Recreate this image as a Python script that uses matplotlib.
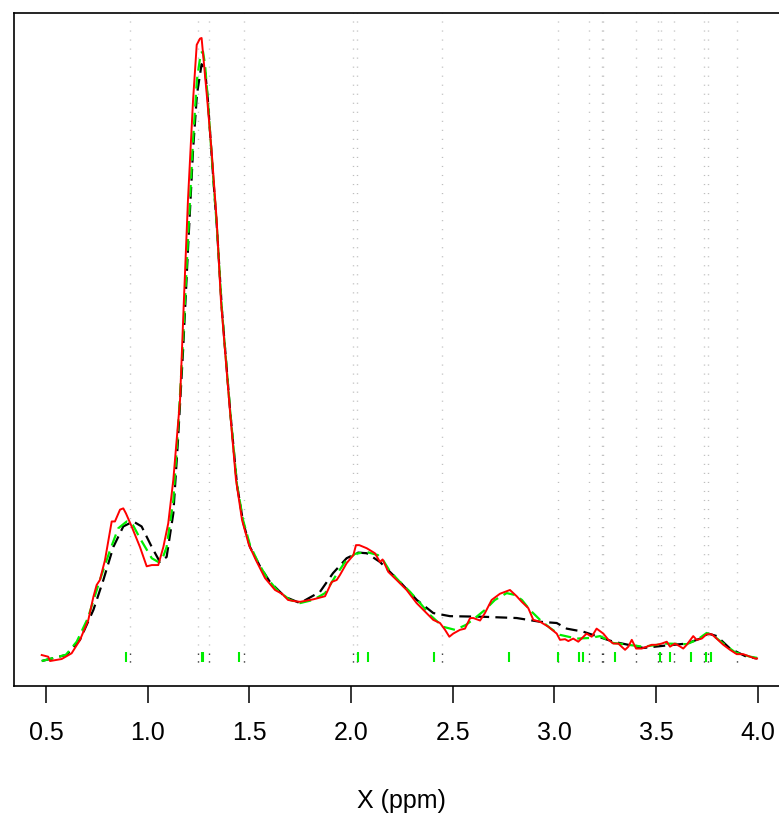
import numpy as np
import matplotlib
matplotlib.use("Agg")
import matplotlib.pyplot as plt

plt.rcParams['font.family'] = ['Liberation Sans', 'DejaVu Sans']
plt.rcParams['lines.scale_dashes'] = False

# Observed spectrum (red)
red_x = [0.479, 0.511, 0.520, 0.577, 0.626, 0.667, 0.708, 0.733, 0.749, 0.765, 0.790, 0.823, 0.839,
         0.864, 0.880, 0.893, 0.921, 0.962, 0.995, 1.020, 1.052, 1.077, 1.101, 1.126, 1.159, 1.178,
         1.198, 1.223, 1.241, 1.257, 1.265, 1.293, 1.315, 1.339, 1.360, 1.400, 1.434, 1.464, 1.498,
         1.532, 1.577, 1.626, 1.660, 1.690, 1.724, 1.749, 1.814, 1.872, 1.905, 1.929, 1.945, 1.978,
         2.011, 2.024, 2.040, 2.077, 2.117, 2.142, 2.155, 2.183, 2.224, 2.273, 2.322, 2.380, 2.404,
         2.437, 2.462, 2.483, 2.502, 2.535, 2.560, 2.585, 2.601, 2.634, 2.658, 2.691, 2.732, 2.757,
         2.781, 2.814, 2.839, 2.871, 2.896, 2.929, 2.970, 3.011, 3.027, 3.052, 3.068, 3.092, 3.117,
         3.142, 3.158, 3.183, 3.207, 3.240, 3.265, 3.289, 3.314, 3.330, 3.347, 3.363, 3.380, 3.401,
         3.429, 3.453, 3.478, 3.502, 3.527, 3.552, 3.568, 3.592, 3.614, 3.633, 3.650, 3.682, 3.699,
         3.724, 3.748, 3.773, 3.797, 3.830, 3.863, 3.896, 3.928, 3.961, 3.986, 3.996]
red_y = [0.96, 0.69, 0.0, 0.32, 1.24, 3.37, 6.58, 10.3, 12.2, 13.0, 16.2, 22.4, 22.4,
         24.3, 24.5, 23.7, 21.6, 18.3, 15.2, 15.4, 15.4, 18.3, 22.1, 29.1, 41.9, 57.9,
         74.0, 90.0, 98.9, 99.9, 100.0, 90.0, 81.5, 70.8, 57.9, 41.9, 29.1, 22.6, 18.6,
         16.2, 13.3, 11.4, 10.8, 9.8, 9.6, 9.5, 9.9, 10.4, 12.7, 13.0, 13.8, 15.7,
         17.0, 18.6, 18.6, 18.1, 17.3, 15.9, 16.3, 14.3, 13.0, 11.4, 9.3, 7.4, 6.6,
         6.1, 5.0, 3.9, 4.4, 5.0, 5.2, 6.9, 6.9, 6.5, 7.7, 9.8, 10.8, 11.1,
         11.4, 10.4, 9.5, 8.5, 6.6, 6.3, 5.5, 4.4, 3.4, 3.5, 3.2, 3.6, 3.1,
         3.9, 4.4, 3.9, 5.2, 4.4, 3.4, 2.8, 2.8, 2.3, 1.8, 2.3, 3.4, 2.0,
         2.0, 2.3, 2.6, 2.6, 2.8, 3.1, 2.3, 2.8, 2.4, 2.0, 2.6, 4.0, 3.4,
         3.6, 4.3, 4.3, 3.6, 2.6, 1.8, 1.1, 1.1, 0.7, 0.4, 0.4]

# Fitted spectrum (green dashed)
green_x = [0.479, 0.598, 0.651, 0.706, 0.765, 0.815, 0.855, 0.897, 0.928, 0.962, 1.020, 1.052, 1.070,
           1.093, 1.126, 1.149, 1.174, 1.198, 1.223, 1.242, 1.261, 1.272, 1.282, 1.296, 1.316, 1.341,
           1.365, 1.405, 1.439, 1.469, 1.503, 1.542, 1.587, 1.636, 1.700, 1.749, 1.813, 1.872, 1.921,
           1.970, 2.019, 2.077, 2.132, 2.157, 2.191, 2.240, 2.290, 2.339, 2.388, 2.452, 2.511, 2.565,
           2.609, 2.658, 2.707, 2.765, 2.806, 2.840, 2.879, 2.929, 2.978, 3.027, 3.109, 3.175, 3.224,
           3.288, 3.362, 3.436, 3.552, 3.650, 3.701, 3.748, 3.784, 3.830, 3.888, 3.961, 3.996]
green_y = [0.0, 1.0, 3.1, 6.9, 13.0, 17.8, 21.3, 22.4, 21.8, 19.7, 16.5, 15.9, 16.2,
           18.3, 25.8, 37.1, 51.5, 67.6, 83.6, 93.3, 97.6, 97.8, 95.7, 90.0, 80.4, 69.2,
           56.3, 40.3, 28.3, 22.6, 18.6, 15.9, 13.3, 11.4, 9.8, 9.3, 9.8, 10.9, 13.5,
           15.9, 17.2, 17.5, 17.0, 16.2, 14.4, 12.7, 11.1, 9.3, 7.4, 5.5, 5.0, 5.8,
           6.9, 8.2, 9.8, 10.9, 10.6, 9.8, 8.2, 6.6, 5.3, 4.2, 3.6, 3.7, 4.0,
           2.9, 2.6, 2.3, 2.8, 2.7, 3.4, 4.5, 4.0, 2.8, 1.4, 0.7, 0.5]

# Smoothed fit (black dashed)
black_x = [0.479, 0.602, 0.667, 0.733, 0.782, 0.831, 0.880, 0.929, 0.970, 1.020, 1.060, 1.093, 1.126,
           1.149, 1.174, 1.198, 1.223, 1.242, 1.265, 1.282, 1.296, 1.316, 1.341, 1.365, 1.405, 1.439,
           1.469, 1.503, 1.552, 1.601, 1.675, 1.749, 1.847, 1.911, 1.978, 2.035, 2.077, 2.142, 2.240,
           2.323, 2.404, 2.486, 2.650, 2.814, 2.929, 3.011, 3.060, 3.142, 3.289, 3.437, 3.552, 3.650,
           3.716, 3.756, 3.798, 3.863, 3.937, 3.996]
black_y = [0.0, 1.0, 3.4, 8.2, 13.0, 18.3, 21.6, 22.4, 21.6, 18.3, 15.9, 16.7, 23.7,
           35.5, 49.9, 66.0, 82.0, 90.9, 95.8, 94.9, 90.0, 80.4, 69.2, 56.3, 40.3, 28.3,
           22.3, 18.3, 15.2, 12.7, 10.3, 9.3, 11.1, 14.1, 16.5, 17.4, 17.3, 15.9, 12.7,
           9.8, 7.7, 7.2, 7.1, 6.9, 6.3, 6.1, 5.2, 4.7, 3.1, 2.1, 2.5, 2.8,
           3.6, 4.4, 4.0, 2.0, 0.8, 0.4]

# Reference peak positions (gray dotted / black ticks)
ref_peaks = [0.913, 1.246, 1.303, 1.475, 2.011, 2.030, 2.445, 3.015, 3.171, 3.232, 3.240,
             3.403, 3.511, 3.526, 3.588, 3.737, 3.757, 3.897]
# Fitted peak positions (green ticks)
fit_peaks = [0.893, 1.267, 1.274, 1.449, 2.035, 2.085, 2.410, 2.778, 3.015, 3.122, 3.139,
             3.297, 3.518, 3.570, 3.670, 3.745, 3.770]

xticks = [0.5, 1.0, 1.5, 2.0, 2.5, 3.0, 3.5, 4.0]
xtick_labels = ["0.5", "1.0", "1.5", "2.0", "2.5", "3.0", "3.5", "4.0"]

fig = plt.figure(figsize=(7.79, 8.21), dpi=100)
ax = fig.add_axes([14/779, 1 - 686/821, (788 - 14)/779, (686 - 13)/821])

ax.vlines(ref_peaks, 2.6, 110, colors='#bebebe', linewidth=1.0,
          linestyles=[(0, (0.8, 5.7))])
ax.vlines(ref_peaks, -0.2, 1.8, colors='black', linewidth=1.0,
          linestyles=[(0, (0.8, 4.8))])
ax.vlines(fit_peaks, -0.2, 1.4, colors='#00ee00', linewidth=1.5)

ax.plot(black_x, black_y, color='black', linewidth=1.6, dashes=(8.5, 4.5))
ax.plot(green_x, green_y, color='#00ee00', linewidth=1.6, dashes=(8.5, 4.5))
ax.plot(red_x, red_y, color='#ff0000', linewidth=1.4)

ax.set_xlim(0.3427, 4.148)
ax.set_ylim(-4.01, 104.01)
ax.set_yticks([])
ax.set_xticks(xticks)
ax.set_xticklabels(xtick_labels, fontsize=18)
ax.tick_params(axis='x', direction='out', length=12, width=1.1, pad=13)
for s in ax.spines.values():
    s.set_linewidth(1.2)
ax.set_xlabel("X (ppm)", fontsize=18, labelpad=32)

fig.savefig("out.png", dpi=100)
